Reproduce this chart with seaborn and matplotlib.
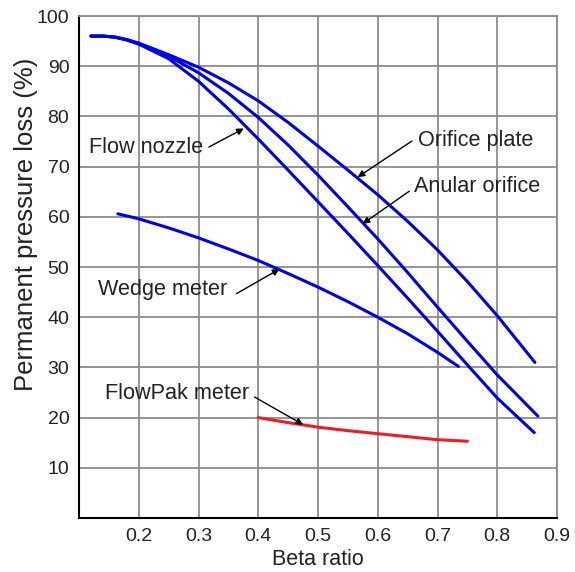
import matplotlib
matplotlib.use("Agg")
import matplotlib.pyplot as plt
import seaborn as sns

# --- data ---
beta_orifice = [0.12, 0.14, 0.16, 0.18, 0.2, 0.25, 0.3, 0.35, 0.4, 0.45, 0.5,
                0.55, 0.6, 0.65, 0.7, 0.75, 0.8, 0.863]
orifice_loss = [96, 96, 95.8, 95.3, 94.6, 92.3, 89.8, 86.7, 83.1, 78.8, 74.1,
                69.3, 64.4, 59.1, 53.4, 47.1, 40.3, 31]

beta_anular = [0.12, 0.14, 0.16, 0.18, 0.2, 0.25, 0.3, 0.35, 0.4, 0.45, 0.5,
               0.55, 0.6, 0.65, 0.7, 0.75, 0.8, 0.868]
anular_loss = [96, 96, 95.8, 95.3, 94.5, 92, 88.7, 84.6, 79.8, 74.3, 68.3,
               62, 55.6, 48.9, 42, 35.2, 28.5, 20.3]

beta_nozzle = [0.12, 0.14, 0.16, 0.18, 0.2, 0.25, 0.3, 0.35, 0.4, 0.45, 0.5,
               0.55, 0.6, 0.65, 0.7, 0.75, 0.8, 0.862]
nozzle_loss = [96, 96, 95.8, 95.2, 94.4, 91.5, 87, 81.5, 75.5, 69.3, 63,
               56.7, 50.3, 43.8, 37.2, 30.5, 23.9, 17]

beta_wedge = [0.165, 0.2, 0.25, 0.3, 0.35, 0.4, 0.45, 0.5, 0.55, 0.6, 0.65,
              0.7, 0.735]
wedge_loss = [60.6, 59.6, 57.8, 55.8, 53.6, 51.3, 48.7, 46, 43.1, 40, 36.7,
              33, 30.2]

beta_flowpak = [0.4, 0.45, 0.5, 0.55, 0.6, 0.65, 0.7, 0.75]
flowpak_loss = [20, 19, 18.1, 17.4, 16.8, 16.2, 15.6, 15.3]

x_ticks = [0.2, 0.3, 0.4, 0.5, 0.6, 0.7, 0.8, 0.9]
y_ticks = [10, 20, 30, 40, 50, 60, 70, 80, 90, 100]

sns.set_style("white")
plt.rcParams["font.family"] = ["Liberation Sans", "DejaVu Sans"]

fig = plt.figure(figsize=(5.75, 5.72), dpi=100)
ax = fig.add_axes([0.1374, 0.0944, 0.8313, 0.8776])

blue = "#0000f0"
red = "#ee1c25"
for xs, ys in [(beta_orifice, orifice_loss), (beta_anular, anular_loss),
               (beta_nozzle, nozzle_loss), (beta_wedge, wedge_loss)]:
    sns.lineplot(x=xs, y=ys, color=blue, lw=2.2, sort=False, ax=ax)
sns.lineplot(x=beta_flowpak, y=flowpak_loss, color=red, lw=2.2, sort=False, ax=ax)

ax.set_xlim(0.1, 0.9)
ax.set_ylim(0, 100)
ax.set_xticks(x_ticks)
ax.set_xticklabels([f"{t:.1f}" for t in x_ticks])
ax.set_yticks(y_ticks)
ax.grid(True, color="#8c8c8c", lw=1.3)
ax.set_axisbelow(True)
ax.tick_params(length=0, labelsize=14, colors="#222222")
ax.tick_params(axis="x", pad=7)
ax.tick_params(axis="y", pad=7)

for side in ["top", "right"]:
    ax.spines[side].set_color("#8c8c8c")
    ax.spines[side].set_linewidth(1.3)
for side in ["left", "bottom"]:
    ax.spines[side].set_color("black")
    ax.spines[side].set_linewidth(1.5)

ax.set_xlabel("Beta ratio", fontsize=15.5, color="#222222", labelpad=3)
ax.set_ylabel("Permanent pressure loss (%)", fontsize=18.5, color="#222222")
ax.yaxis.set_label_coords(-0.086, 0.586)

# labels with arrows
arrow = dict(arrowstyle="-|>", color="black", lw=1.0, mutation_scale=10,
             shrinkA=0, shrinkB=0)
labels = [
    ("Flow nozzle", (0.116, 73.8), (0.3174, 73.9), (0.3759, 77.6)),
    ("Orifice plate", (0.668, 75.3), (0.6572, 75.1), (0.5663, 67.9)),
    ("Anular orifice", (0.660, 66.1), (0.6527, 65.1), (0.5747, 58.6)),
    ("Wedge meter", (0.132, 45.6), (0.3637, 44.7), (0.4356, 49.6)),
    ("FlowPak meter", (0.143, 24.8), (0.3938, 24.1), (0.4751, 18.6)),
]
for text, pos, tail, head in labels:
    ax.text(pos[0], pos[1], text, fontsize=15.6, color="#222222",
            ha="left", va="center")
    ax.annotate("", xy=head, xytext=tail, arrowprops=arrow)

fig.savefig("out.png", dpi=100)
